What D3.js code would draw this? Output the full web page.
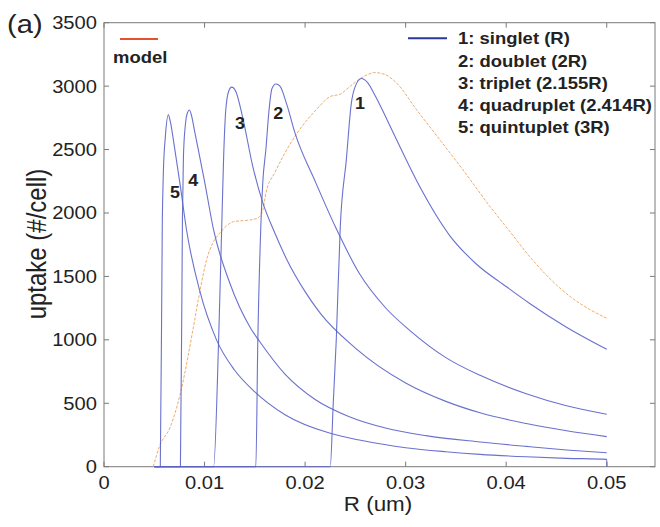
<!DOCTYPE html>
<html><head><meta charset="utf-8">
<script src="https://cdn.jsdelivr.net/npm/d3@7"></script>
<style>body{margin:0;background:#fff}svg{display:block;font-family:"Liberation Sans",Arial,sans-serif}</style>
</head><body><svg id="c" width="660" height="527"></svg>
<script>
// ---- data ----
const xTicks = [0, 0.01, 0.02, 0.03, 0.04, 0.05];
const xTickLabels = ["0", "0.01", "0.02", "0.03", "0.04", "0.05"];
const yTicks = [0, 500, 1000, 1500, 2000, 2500, 3000, 3500];
const yTickLabels = ["0", "500", "1000", "1500", "2000", "2500", "3000", "3500"];

const legendNames = ["1: singlet (R)", "2: doublet (2R)", "3: triplet (2.155R)", "4: quadruplet (2.414R)", "5: quintuplet (3R)"];
const curveIds = ["1", "2", "3", "4", "5"];
const curveLabelR = [0.02546, 0.01734, 0.01353, 0.00888, 0.00706];
const curveLabelU = [2867, 2788, 2707, 2260, 2168];

const r1 = [0.0050,0.0225,0.0228,0.0231,0.0235,0.0241,0.0246,0.0250,0.0256,0.0262,0.0270,0.0280,0.0291,0.0314,0.0344,0.0370,0.0400,0.0423,0.0460,0.0500];
const u1 = [0,0,500,1000,1893,2419,2866,3000,3060,3030,2920,2760,2577,2208,1820,1600,1420,1289,1100,926];

const r2 = [0.0050,0.0151,0.0153,0.0156,0.0158,0.0161,0.0164,0.0167,0.0171,0.0175,0.0182,0.0190,0.0210,0.0230,0.0254,0.0280,0.0304,0.0340,0.0374,0.0420,0.0460,0.0500];
const u2 = [0,0,1000,1900,2250,2500,2800,2980,3017,3000,2850,2629,2250,1893,1523,1253,1075,860,720,575,480,413];

const r3 = [0.0050,0.0109,0.0114,0.0117,0.0119,0.0121,0.0124,0.0127,0.0131,0.0138,0.0148,0.0158,0.0170,0.0182,0.0200,0.0215,0.0250,0.0300,0.0340,0.0374,0.0420,0.0460,0.0500];
const u3 = [0,0,998,1866,2445,2800,2960,2992,2960,2750,2366,2080,1840,1630,1380,1210,935,660,515,425,340,283,237];

const r4 = [0.0050,0.0076,0.0078,0.0079,0.0081,0.0083,0.0085,0.0087,0.0090,0.0100,0.0109,0.0125,0.0146,0.0155,0.0180,0.0210,0.0244,0.0280,0.0320,0.0374,0.0420,0.0460,0.0500];
const u4 = [0,0,1945,2445,2700,2790,2812,2770,2650,2250,1866,1450,1090,985,730,530,394,305,245,195,160,132,110];

const r5 = [0.0050,0.0056,0.0058,0.0059,0.0061,0.0064,0.0066,0.0069,0.0076,0.0082,0.0095,0.0112,0.0130,0.0150,0.0180,0.0225,0.0254,0.0300,0.0340,0.0374,0.0420,0.0460,0.0500,0.05003];
const u5 = [0,0,1945,2313,2600,2773,2720,2576,2208,1870,1393,998,760,590,410,263,210,150,118,97,78,66,58,0];

const rModel = [0.0049,0.0055,0.0066,0.0076,0.0089,0.0095,0.0102,0.0108,0.0115,0.0122,0.0129,0.0145,0.0153,0.0158,0.0161,0.0170,0.0178,0.0192,0.0211,0.0225,0.0235,0.0245,0.0255,0.0262,0.0269,0.0280,0.0291,0.0311,0.0334,0.0357,0.0384,0.0404,0.0423,0.0440,0.0463,0.0483,0.0500];
const uModel = [0,158,315,579,1104,1367,1630,1760,1840,1900,1932,1945,1960,2024,2156,2320,2445,2629,2813,2918,2937,3000,3060,3090,3107,3090,3024,2813,2577,2340,2050,1850,1660,1510,1345,1240,1170];

// ---- chart ----
const svg = d3.select("#c");
const L = 104, R = 655, T = 22.7, B = 466.7;
const x = d3.scaleLinear().domain([0, 0.0548]).range([L, R]);
const y = d3.scaleLinear().domain([0, 3500]).range([B, T]);
const SX = 1.12;

const blue = "#5a62c8";
const series = [[r1,u1],[r2,u2],[r3,u3],[r4,u4],[r5,u5]].map(([r,u]) => r.map((v,i)=>[v,u[i]]));
const model = rModel.map((v,i)=>[v,uModel[i]]);
const line = d3.line().x(d=>x(d[0])).y(d=>y(d[1])).curve(d3.curveMonotoneX);

// frame
svg.append("rect").attr("x",L).attr("y",T).attr("width",R-L).attr("height",B-T)
  .attr("fill","none").attr("stroke","#7a7a7a").attr("stroke-width",1);

// ticks (inward, all four sides)
const tk = svg.append("g").attr("stroke","#7a7a7a").attr("stroke-width",1);
xTicks.forEach(t=>{
  tk.append("line").attr("x1",x(t)).attr("x2",x(t)).attr("y1",B).attr("y2",B-5);
  tk.append("line").attr("x1",x(t)).attr("x2",x(t)).attr("y1",T).attr("y2",T+5);
});
yTicks.forEach(t=>{
  tk.append("line").attr("x1",L).attr("x2",L+5).attr("y1",y(t)).attr("y2",y(t));
  tk.append("line").attr("x1",R).attr("x2",R-5).attr("y1",y(t)).attr("y2",y(t));
});

// tick labels
xTicks.forEach((t,i)=>{
  svg.append("text").attr("transform",`translate(${x(t)},489) scale(${SX},1)`)
    .attr("text-anchor","middle").attr("font-size",18).attr("fill","#222").text(xTickLabels[i]);
});
yTicks.forEach((t,i)=>{
  svg.append("text").attr("transform",`translate(97,${y(t)+6.5}) scale(${SX},1)`)
    .attr("text-anchor","end").attr("font-size",18).attr("fill","#222").text(yTickLabels[i]);
});

// axis labels
svg.append("text").attr("transform",`translate(378,511) scale(${SX},1)`)
  .attr("text-anchor","middle").attr("font-size",20).attr("fill","#222").text("R (um)");
svg.append("text").attr("transform",`translate(46,244) scale(${SX},1) rotate(-90)`)
  .attr("text-anchor","middle").attr("font-size",24).attr("fill","#222").text("uptake (#/cell)");
svg.append("text").attr("transform",`translate(7,33) scale(${SX},1)`)
  .attr("font-size",26).attr("fill","#222").text("(a)");

// model curve
svg.append("path").datum(model).attr("d",line).attr("fill","none")
  .attr("stroke","#f2ab6a").attr("stroke-width",1).attr("stroke-dasharray","3,1.5");

// blue curves
series.forEach(s=>{
  svg.append("path").datum(s).attr("d",line).attr("fill","none")
    .attr("stroke",blue).attr("stroke-width",1.1).attr("stroke-opacity",0.9);
});

// curve labels
curveIds.forEach((id,i)=>{
  svg.append("text").attr("transform",`translate(${x(curveLabelR[i])},${y(curveLabelU[i])+6}) scale(${SX},1)`)
    .attr("text-anchor","middle").attr("font-size",16).attr("font-weight","bold").attr("fill","#222").text(id);
});

// legend (blue)
svg.append("line").attr("x1",408).attr("x2",447).attr("y1",38.3).attr("y2",38.3)
  .attr("stroke","#2b3a95").attr("stroke-width",2);
legendNames.forEach((n,i)=>{
  svg.append("text").attr("transform",`translate(458,${44.3+i*22.2}) scale(${SX},1)`)
    .attr("font-size",16.5).attr("font-weight","bold").attr("fill","#222").text(n);
});
// legend (model)
svg.append("line").attr("x1",120).attr("x2",158).attr("y1",39).attr("y2",39)
  .attr("stroke","#e5502e").attr("stroke-width",2);
svg.append("text").attr("transform",`translate(113,63) scale(${SX},1)`)
  .attr("font-size",16.5).attr("font-weight","bold").attr("fill","#222").text("model");
</script></body></html>
